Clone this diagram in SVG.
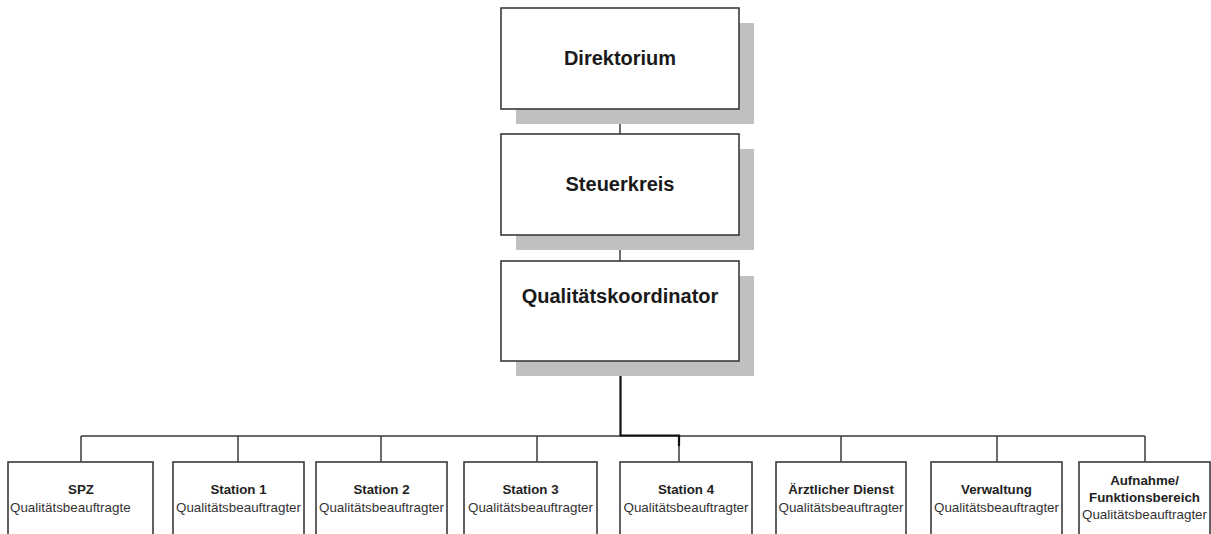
<svg xmlns="http://www.w3.org/2000/svg" width="1211" height="534" viewBox="0 0 1211 534">
<style>
.bg{fill:#ffffff}
.shadow{fill:#c0c0c0}
.box{fill:#ffffff;stroke:#3a3a3a;stroke-width:1.6}
.t1{font-family:"Liberation Sans",Arial,sans-serif;font-weight:bold;font-size:20px;fill:#1a1a1a;text-anchor:middle}
.t2{font-family:"Liberation Sans",Arial,sans-serif;font-weight:bold;font-size:13.3px;fill:#222;text-anchor:middle}
.t3{font-family:"Liberation Sans",Arial,sans-serif;font-size:13.4px;fill:#333;text-anchor:middle}
.ln{stroke:#3a3a3a;stroke-width:1.5;fill:none}
.trunk{stroke:#111;stroke-width:2.2;fill:none}
</style>
<rect class="bg" x="0" y="0" width="1211" height="534"/>
<g id="connectors">
<line class="ln" x1="620" y1="109" x2="620" y2="134"/>
<line class="ln" x1="620" y1="235" x2="620" y2="261"/>
<line class="ln" x1="81" y1="436" x2="1145" y2="436"/>
<line class="ln" x1="81" y1="436" x2="81" y2="462"/>
<line class="ln" x1="238" y1="436" x2="238" y2="462"/>
<line class="ln" x1="381" y1="436" x2="381" y2="462"/>
<line class="ln" x1="537" y1="436" x2="537" y2="462"/>
<line class="ln" x1="679" y1="436" x2="679" y2="462"/>
<line class="ln" x1="841" y1="436" x2="841" y2="462"/>
<line class="ln" x1="997" y1="436" x2="997" y2="462"/>
<line class="ln" x1="1145" y1="436" x2="1145" y2="462"/>
<polyline class="trunk" points="620.5,361 620.5,435.5 679,435.5 679,446"/>
</g>
<g id="direktorium">
<rect class="shadow" x="516" y="23" width="238" height="101"/>
<rect class="box" x="501" y="8" width="238" height="101"/>
<text class="t1" x="620" y="65">Direktorium</text>
</g>
<g id="steuerkreis">
<rect class="shadow" x="516" y="149" width="238" height="101"/>
<rect class="box" x="501" y="134" width="238" height="101"/>
<text class="t1" x="620" y="191">Steuerkreis</text>
</g>
<g id="qualitaetskoordinator">
<rect class="shadow" x="516" y="276" width="238" height="100"/>
<rect class="box" x="501" y="261" width="238" height="100"/>
<text class="t1" x="620" y="303">Qualitätskoordinator</text>
</g>
<g id="spz">
<rect class="box" x="8" y="462" width="145" height="80"/>
<text class="t2" x="81" y="494">SPZ</text>
<text class="t3" x="10" y="511.5" style="text-anchor:start">Qualitätsbeauftragte</text>
</g>
<g id="station1">
<rect class="box" x="173" y="462" width="131" height="80"/>
<text class="t2" x="238.5" y="494">Station 1</text>
<text class="t3" x="238.5" y="511.5">Qualitätsbeauftragter</text>
</g>
<g id="station2">
<rect class="box" x="316" y="462" width="131" height="80"/>
<text class="t2" x="381.5" y="494">Station 2</text>
<text class="t3" x="381.5" y="511.5">Qualitätsbeauftragter</text>
</g>
<g id="station3">
<rect class="box" x="464" y="462" width="133" height="80"/>
<text class="t2" x="530.5" y="494">Station 3</text>
<text class="t3" x="530.5" y="511.5">Qualitätsbeauftragter</text>
</g>
<g id="station4">
<rect class="box" x="620" y="462" width="132" height="80"/>
<text class="t2" x="686" y="494">Station 4</text>
<text class="t3" x="686" y="511.5">Qualitätsbeauftragter</text>
</g>
<g id="aerztlicher-dienst">
<rect class="box" x="776" y="462" width="130" height="80"/>
<text class="t2" x="841" y="494">Ärztlicher Dienst</text>
<text class="t3" x="841" y="511.5">Qualitätsbeauftragter</text>
</g>
<g id="verwaltung">
<rect class="box" x="931" y="462" width="131" height="80"/>
<text class="t2" x="996.5" y="494">Verwaltung</text>
<text class="t3" x="996.5" y="511.5">Qualitätsbeauftragter</text>
</g>
<g id="aufnahme">
<rect class="box" x="1079" y="462" width="131" height="80"/>
<text class="t2" x="1144.5" y="485">Aufnahme/</text>
<text class="t2" x="1144.5" y="502">Funktionsbereich</text>
<text class="t3" x="1144.5" y="518.5">Qualitätsbeauftragter</text>
</g>
</svg>
